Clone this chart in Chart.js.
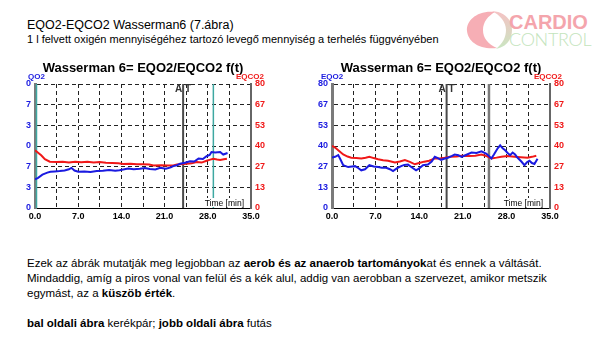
<!DOCTYPE html>
<html>
<head>
<meta charset="utf-8">
<script src="https://cdn.jsdelivr.net/npm/chart.js@4.4.1/dist/chart.umd.min.js"></script>
<style>
  body { margin: 0; width: 600px; height: 350px; background: #fff; position: relative; overflow: hidden;
         font-family: "Liberation Sans", Arial, sans-serif; color: #000; }
  .abs { position: absolute; white-space: nowrap; line-height: 1; }
  #head1 { left: 27px; top: 19px; font-size: 12.5px; }
  #head2 { left: 27px; top: 34px; font-size: 11px; }
  .box { position: absolute; top: 55px; width: 300px; height: 170px; }
  #boxBike { left: 0; }
  #boxRun { left: 300px; }
  #note { left: 27px; top: 256px; font-size: 11.5px; line-height: 15px; }
  #logo { position: absolute; left: 462px; top: 6px; width: 135px; height: 44px; }
  #logo svg { position: absolute; left: 3px; top: 3px; }
  #logo .cardio { position: absolute; left: 47px; top: 6px; font-size: 20px; font-weight: bold; color: #f4a5ac; }
  #logo .control { position: absolute; left: 47px; top: 24px; font-size: 18px; color: #c3e4bc; font-family: Lato, "Open Sans", sans-serif; font-weight: 300; letter-spacing: -0.3px; }
</style>
</head>
<body>
<div id="head1" class="abs">EQO2-EQCO2 Wasserman6 (7.ábra)</div>
<div id="head2" class="abs">1 l felvett oxigén mennyiségéhez tartozó levegő mennyiség a terhelés függvényében</div>

<div id="logo">
  <svg width="50" height="42" viewBox="0 0 50 42">
    <defs>
      <linearGradient id="g2" x1="0" y1="0" x2="0" y2="1">
        <stop offset="0" stop-color="#f5c2c4"/>
        <stop offset="1" stop-color="#c9e6c1"/>
      </linearGradient>
    </defs>
    <path d="M30 3 C12 1 1 12 2 22 C3 33 15 41 32 39 C23 35 18 29 18 21 C18 13 23 7 30 3 Z" fill="#f6aeb5"/>
    <path d="M27 2 C40 3 47 11 47 21 C47 31 41 38 31 40 C38 34 41 28 41 21 C41 13 35 6 27 2 Z" fill="url(#g2)"/>
  </svg>
  <div class="abs cardio">CARDIO</div>
  <div class="abs control">CONTROL</div>
</div>

<div id="boxBike" class="box"><canvas id="bike" width="300" height="170"></canvas></div>
<div id="boxRun" class="box"><canvas id="run" width="300" height="170"></canvas></div>

<div id="note" class="abs">
Ezek az ábrák mutatják meg legjobban az <b>aerob és az anaerob tartományok</b>at és ennek a váltását.<br>
Mindaddig, amíg a piros vonal van felül és a kék alul, addig van aerobban a szervezet, amikor metszik<br>
egymást, az a <b>küszöb érték</b>.<br>
<br>
<b>bal oldali ábra</b> kerékpár; <b>jobb oldali ábra</b> futás
</div>

<script>
// --- adatok ---------------------------------------------------------------
var chartTitle = 'Wasserman 6= EQO2/EQCO2 f(t)';
var timeLabel = 'Time [min]';
var xTickValues = [0, 3.5, 7, 10.5, 14, 17.5, 21, 24.5, 28, 31.5, 35];
var yTickLabels = ['0', '13', '27', '40', '53', '67', '80'];
// a bal oldali ábra bal tengelyének feliratai le vannak vágva
var bikeLeftTickLabels = ['0', '3', '7', '0', '3', '7', '0'];

// kerékpár
var bikeEqo2Time = [0, 0.5, 1.2, 2.0, 2.5, 3.2, 4.0, 4.8, 5.5, 5.9, 6.4, 7.0, 8.0, 9.0, 10.0, 11.0, 12.0, 13.0, 13.7, 14.5, 15.1, 16.0, 17.0, 17.8, 18.6, 19.5, 20.3, 21.2, 22.0, 22.4, 23.0, 23.5, 24.3, 25.1, 25.8, 26.5, 27.2, 27.8, 28.3, 28.6, 29.2, 30.0, 30.5, 31.2];
var bikeEqo2 = [18.5, 19.5, 21.5, 22.8, 23.4, 23.6, 23.8, 24.2, 25.0, 25.9, 24.2, 23.4, 23.6, 23.2, 23.8, 24.0, 24.5, 24.0, 24.3, 25.0, 25.5, 25.0, 25.3, 25.8, 25.1, 24.8, 25.9, 25.4, 26.2, 27.0, 27.6, 28.5, 29.2, 30.2, 30.0, 31.9, 31.6, 33.4, 34.2, 36.1, 35.8, 36.1, 34.5, 35.5];
var bikeEqco2Time = [0, 0.4, 1.0, 1.6, 2.4, 3.5, 4.5, 5.5, 6.5, 7.5, 8.5, 9.5, 10.5, 11.5, 12.5, 13.5, 14.3, 15.5, 16.5, 17.5, 18.5, 19.2, 20.5, 21.5, 22.4, 23.0, 23.5, 24.6, 25.4, 26.2, 27.0, 27.8, 28.4, 28.9, 29.5, 30.0, 30.6, 31.1];
var bikeEqco2 = [37.3, 36.0, 34.0, 31.5, 29.9, 29.6, 29.8, 29.4, 29.9, 29.5, 29.8, 29.3, 29.6, 29.2, 29.0, 28.8, 28.4, 28.6, 28.3, 28.2, 28.0, 27.4, 27.6, 27.4, 27.4, 28.0, 28.2, 28.5, 28.8, 29.6, 29.3, 30.5, 31.2, 31.8, 31.3, 31.0, 31.5, 31.8];
var bikeMarkerTime = [0, 24.0, 28.9];
var bikeMarkerKind = ['teal', 'at', 'teal'];

// futás
var runEqo2Time = [0, 0.5, 1.0, 1.4, 1.8, 2.6, 3.2, 3.7, 4.2, 4.7, 5.3, 6.0, 6.7, 7.4, 8.0, 8.7, 9.3, 9.8, 10.4, 11.1, 11.6, 12.2, 12.9, 13.5, 14.0, 14.6, 15.4, 16.0, 16.5, 17.0, 17.5, 18.0, 18.6, 19.2, 19.7, 20.3, 20.8, 21.5, 22.4, 23.2, 24.0, 24.8, 25.6, 26.0, 26.6, 27.0, 27.4, 27.8, 28.2, 28.6, 29.0, 29.4, 29.8, 30.4, 30.9, 31.3, 31.7, 32.1, 32.5, 33.0];
var runEqo2 = [32.6, 33.0, 34.1, 31.0, 27.6, 26.4, 26.8, 27.0, 25.8, 24.3, 25.0, 27.6, 26.8, 26.4, 26.0, 25.9, 25.0, 23.8, 25.5, 27.0, 27.8, 28.0, 26.0, 24.3, 25.5, 27.6, 28.0, 30.0, 33.0, 32.2, 31.0, 31.8, 32.4, 33.5, 34.5, 34.0, 33.0, 34.2, 35.8, 35.5, 36.6, 35.0, 32.0, 34.5, 38.5, 40.4, 38.5, 37.2, 35.5, 34.1, 35.8, 34.5, 32.4, 30.0, 27.6, 29.5, 30.5, 29.0, 28.4, 31.8];
var runEqco2Time = [0, 0.5, 1.0, 1.8, 2.5, 3.1, 3.9, 4.7, 5.4, 6.0, 6.7, 7.4, 8.2, 9.0, 10.1, 10.9, 11.7, 12.5, 13.3, 14.0, 14.8, 15.6, 16.5, 17.3, 18.1, 19.0, 20.0, 20.8, 22.0, 23.0, 24.0, 24.8, 25.6, 26.4, 27.2, 28.2, 29.3, 30.3, 31.4, 32.1, 32.8];
var runEqco2 = [40.0, 39.0, 37.3, 34.5, 33.2, 32.4, 32.2, 32.0, 32.4, 33.1, 32.2, 31.5, 30.8, 30.5, 29.4, 30.0, 30.9, 29.8, 28.2, 29.0, 29.9, 30.5, 32.0, 32.0, 32.4, 33.0, 33.2, 33.7, 33.5, 33.7, 34.5, 33.5, 32.0, 32.5, 33.1, 33.5, 33.1, 32.8, 32.4, 33.0, 33.7];
var runMarkerTime = [18.4, 25.2];
var runMarkerKind = ['at', 'grey'];

// --- rajzolás -------------------------------------------------------------
var BLUE = '#1a1ae0';
var RED = '#f01818';
var markerStyle = {
    teal: { color: '#3ea8a2', width: 1.5 },
    at: { color: '#4a4a4a', width: 2 },
    grey: { color: '#7a7a7a', width: 2.5 }
};

function pts(ts, vs) {
    return ts.map(function(t, i) { return { x: t, y: vs[i] }; });
}

// feliratok és függőleges jelölők
var overlay = {
    id: 'overlay',
    beforeDatasetsDraw: function(chart) {
        var o = chart.options.plugins.overlay;
        var ctx = chart.ctx, area = chart.chartArea, xs = chart.scales.x;
        ctx.save();
        o.markerTime.forEach(function(t, i) {
            var st = markerStyle[o.markerKind[i]];
            var px = xs.getPixelForValue(t) + (t === 0 ? 1.5 : 0);
            ctx.strokeStyle = st.color;
            ctx.lineWidth = st.width;
            ctx.beginPath();
            ctx.moveTo(px, area.top);
            ctx.lineTo(px, area.bottom);
            ctx.stroke();
            if (o.markerKind[i] === 'at') {
                ctx.fillStyle = '#333';
                ctx.font = 'bold 10px "Liberation Sans", Arial, sans-serif';
                ctx.textBaseline = 'alphabetic';
                ctx.textAlign = 'right';
                ctx.fillText('A', px - 1, area.top + 8);
                ctx.textAlign = 'left';
                ctx.fillText('T', px + 2, area.top + 8);
            }
        });
        // "Time [min]" fehér háttérrel
        ctx.font = '8.5px "Liberation Sans", Arial, sans-serif';
        var w = ctx.measureText(timeLabel).width;
        var tx = area.right - 7 - w, ty = area.bottom - 2;
        ctx.fillStyle = '#fff';
        ctx.fillRect(tx - 1, ty - 8, w + 2, 9);
        ctx.fillStyle = '#000';
        ctx.textAlign = 'left';
        ctx.fillText(timeLabel, tx, ty);
        ctx.restore();
    },
    afterDraw: function(chart) {
        var o = chart.options.plugins.overlay;
        var ctx = chart.ctx, area = chart.chartArea;
        ctx.save();
        ctx.textBaseline = 'alphabetic';
        ctx.fillStyle = '#000';
        ctx.textAlign = 'center';
        ctx.font = 'bold 13px "Liberation Sans", Arial, sans-serif';
        ctx.fillText(chartTitle, (area.left + area.right) / 2, 17);
        ctx.font = 'bold 8px "Liberation Sans", Arial, sans-serif';
        ctx.fillStyle = BLUE;
        ctx.textAlign = 'left';
        ctx.fillText(o.leftTitle, o.leftTitleX, 24);
        ctx.fillStyle = RED;
        ctx.textAlign = 'right';
        ctx.fillText('EQCO2', o.rightTitleX, 24);
        ctx.restore();
    }
};

function makeChart(id, s) {
    var tickFont = { family: '"Liberation Sans", Arial, sans-serif', size: 9, weight: 'bold' };
    var yTicks = function(axis) {
        axis.ticks = yTickLabels.map(function(l, i) { return { value: i * 80 / (yTickLabels.length - 1) }; });
    };
    return new Chart(document.getElementById(id), {
        type: 'line',
        data: {
            datasets: [
                { label: 'EQO2', data: pts(s.blueT, s.blueV), yAxisID: 'yL', borderColor: BLUE,
                  borderWidth: 2, pointRadius: 0, tension: 0, fill: false },
                { label: 'EQCO2', data: pts(s.redT, s.redV), yAxisID: 'yR', borderColor: RED,
                  borderWidth: 2, pointRadius: 0, tension: 0, fill: false }
            ]
        },
        options: {
            responsive: false,
            animation: false,
            events: [],
            layout: { padding: { top: 29, left: 0, right: 0, bottom: 0 } },
            plugins: {
                legend: { display: false },
                tooltip: { enabled: false },
                overlay: s.overlay
            },
            scales: {
                x: {
                    type: 'linear', min: 0, max: 35,
                    afterBuildTicks: function(axis) {
                        axis.ticks = xTickValues.map(function(v) { return { value: v }; });
                    },
                    afterFit: function(sc) { sc.height = 17; },
                    grid: { color: '#222', lineWidth: 1, drawTicks: false },
                    border: { display: true, color: '#000', width: 1, dash: [4, 3] },
                    ticks: {
                        autoSkip: false, maxRotation: 0, padding: 3, color: '#000', font: tickFont,
                        callback: function(v) { return v % 7 === 0 ? v.toFixed(1) : ''; }
                    }
                },
                yL: {
                    position: 'left', min: 0, max: 80,
                    afterBuildTicks: yTicks,
                    afterFit: function(sc) { sc.width = s.leftW; },
                    grid: { color: '#222', lineWidth: 1, drawTicks: false },
                    border: { display: true, color: '#7a7a7a', width: 3, dash: [4, 3] },
                    ticks: {
                        padding: 4, color: BLUE, font: tickFont,
                        callback: function(v, i) { return s.leftLabels[i]; }
                    }
                },
                yR: {
                    position: 'right', min: 0, max: 80,
                    afterBuildTicks: yTicks,
                    afterFit: function(sc) { sc.width = s.rightW; },
                    grid: { display: false, drawTicks: false },
                    border: { display: true, color: '#666', width: 2 },
                    ticks: {
                        padding: 4, color: RED, font: tickFont,
                        callback: function(v, i) { return yTickLabels[i]; }
                    }
                }
            }
        },
        plugins: [overlay]
    });
}

makeChart('bike', {
    blueT: bikeEqo2Time, blueV: bikeEqo2, redT: bikeEqco2Time, redV: bikeEqco2,
    leftW: 35, rightW: 49, leftLabels: bikeLeftTickLabels,
    overlay: { markerTime: bikeMarkerTime, markerKind: bikeMarkerKind,
               leftTitle: 'QO2', leftTitleX: 28, rightTitleX: 264 }
});

makeChart('run', {
    blueT: runEqo2Time, blueV: runEqo2, redT: runEqco2Time, redV: runEqco2,
    leftW: 32, rightW: 50, leftLabels: yTickLabels,
    overlay: { markerTime: runMarkerTime, markerKind: runMarkerKind,
               leftTitle: 'EQO2', leftTitleX: 21, rightTitleX: 262 }
});
</script>
</body>
</html>
